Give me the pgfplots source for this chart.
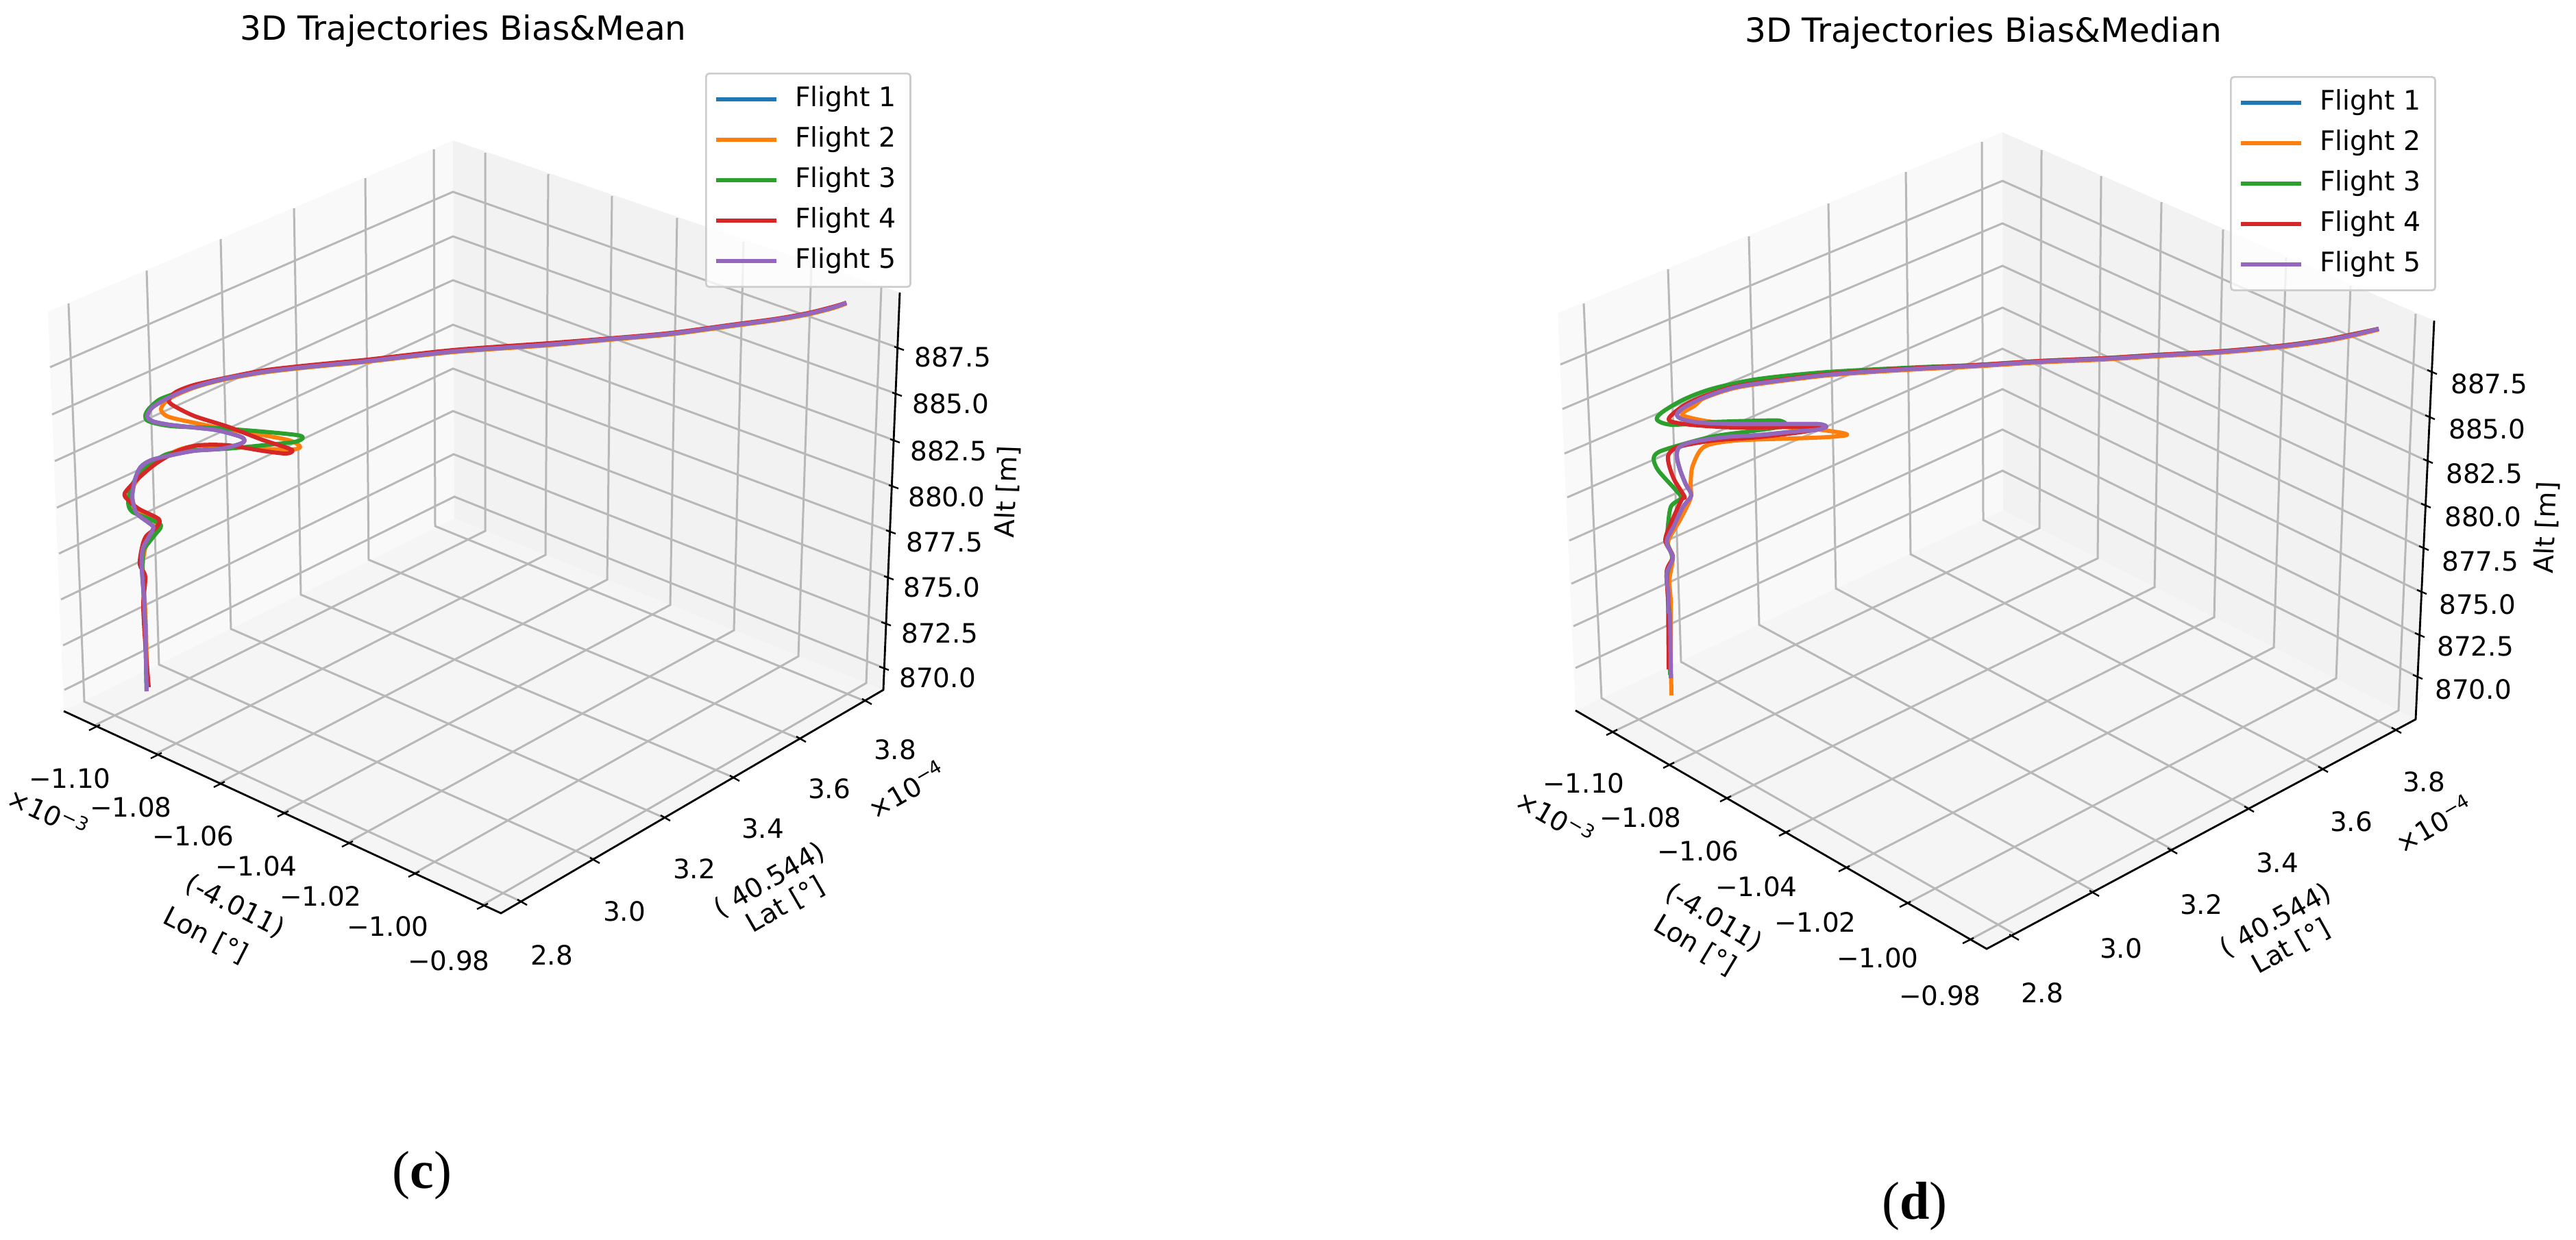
\documentclass[border=0pt]{standalone}
\usepackage{fontspec}
\setmainfont{DejaVu Sans}
\newfontfamily\capfont{Liberation Serif}
\usepackage{pgfplots}
\usepackage{pgfplotstable}
\pgfplotsset{compat=1.18}

\definecolor{c1}{HTML}{1F77B4}
\definecolor{c2}{HTML}{FF7F0E}
\definecolor{c3}{HTML}{2CA02C}
\definecolor{c4}{HTML}{D62728}
\definecolor{c5}{HTML}{9467BD}
\definecolor{paneL}{HTML}{F9F9F9}
\definecolor{paneR}{HTML}{F2F2F2}
\definecolor{paneF}{HTML}{F5F5F5}
\definecolor{gridc}{HTML}{B8B8B8}

% coordinates are image pixels of the projected 3D view (y grows downwards)
\pgfplotstableread{
x y
214 1009
213 962
212 918
210 873
207 829
208 802
217 784
224 770
217 763
200 750
195 737
193 723
197 700
205 682
220 672
247 665
283 658
323 655
350 648
357 643
350 637
317 628
283 624
247 620
223 615
215 608
222 595
247 580
283 565
327 553
383 543
433 537
483 532
536 527
661 513
800 503
889 495
979 487
1068 475
1135 466
1179 458
1215 449
1235 442
}\leftA
\pgfplotstableread{
x y
216 1003
214 960
213 918
211 873
208 829
212 800
220 785
225 773
228 763
207 750
192 737
190 720
203 697
227 677
257 658
290 650
333 652
383 655
427 656
438 652
423 643
383 635
333 627
283 617
245 608
235 597
247 582
283 566
327 554
383 544
433 538
483 533
536 528
661 514
800 504
889 496
979 488
1068 476
1135 467
1179 459
1215 450
1235 443
}\leftB
\pgfplotstableread{
x y
214 1006
213 960
212 918
210 873
208 829
209 805
213 797
225 782
235 767
217 757
193 747
187 733
193 707
213 683
243 663
283 657
330 655
383 650
430 645
442 639
433 635
383 630
317 625
250 622
217 615
212 607
217 597
233 583
260 573
283 565
327 553
383 543
433 537
483 532
536 527
661 513
800 503
889 495
979 487
1068 475
1135 466
1179 458
1215 449
1235 442
}\leftC
\pgfplotstableread{
x y
217 1003
212 940
209 882
212 842
204 824
207 800
213 783
228 770
232 758
203 743
187 730
182 720
200 700
227 677
260 658
290 650
333 650
383 658
417 662
427 658
417 653
383 642
333 623
283 607
250 590
247 582
257 572
283 562
327 552
383 541
433 535
483 530
536 525
661 511
800 501
889 494
979 486
1068 474
1135 465
1179 457
1215 448
1235 442
}\leftD

\pgfplotstableread{
x y
2438 990
2437 901
2434 892
2435 870
2432 838
2441 814
2432 791
2443 767
2456 740
2468 723
2460 707
2452 687
2447 667
2450 653
2470 645
2517 638
2567 635
2617 630
2653 627
2665 623
2653 619
2600 619
2533 619
2483 617
2455 612
2447 605
2457 595
2487 580
2533 565
2600 555
2667 547
2733 542
2800 538
2880 534
2976 528
3067 524
3148 519
3237 514
3326 506
3393 497
3438 488
3471 480
}\rightA
\pgfplotstableread{
x y
2439 1015
2438 950
2438 879
2436 847
2441 814
2434 791
2452 758
2467 727
2467 707
2470 680
2487 652
2533 643
2617 640
2667 638
2695 635
2683 631
2633 625
2550 620
2493 615
2460 608
2455 603
2473 592
2487 581
2533 566
2600 556
2667 548
2733 543
2800 539
2880 535
2976 529
3067 525
3148 520
3237 515
3326 507
3393 498
3438 489
3471 481
}\rightB
\pgfplotstableread{
x y
2437 985
2436 901
2434 870
2433 838
2440 814
2432 790
2433 777
2438 740
2453 727
2445 715
2420 687
2413 670
2420 660
2450 650
2500 637
2550 630
2587 625
2606 620
2597 614
2567 614
2500 616
2440 620
2418 613
2425 602
2457 583
2500 567
2567 553
2667 543
2800 536
2880 533
2976 527
3067 523
3148 518
3237 513
3326 505
3393 496
3438 487
3471 480
}\rightC
\pgfplotstableread{
x y
2435 977
2434 879
2432 834
2441 812
2430 789
2439 762
2454 729
2458 725
2443 700
2435 677
2435 663
2450 652
2500 643
2567 638
2633 630
2662 623
2633 623
2533 624
2467 620
2438 615
2437 608
2457 592
2487 578
2533 564
2600 554
2667 546
2733 541
2800 537
2880 533
2976 527
3067 523
3148 518
3237 513
3326 505
3393 496
3438 487
3471 480
}\rightD

\newcommand{\grd}[1]{\addplot[gridc, line width=1pt, forget plot] coordinates {#1};}
\newcommand{\axl}[1]{\addplot[black, line width=0.95pt, forget plot] coordinates {#1};}
\newcommand{\tck}[1]{\addplot[black, line width=0.8pt, forget plot] coordinates {#1};}
\newcommand{\pane}[2]{\addplot[fill=#1, draw=none, forget plot] coordinates {#2} -- cycle;}
\newcommand{\lab}[4][0]{\node[font=\fontsize{13}{15}\selectfont, rotate=#1, inner sep=0pt] at (axis cs:#2,#3) {#4};}

\pgfplotsset{
  every axis title shift=0pt,
  panel/.style={
    hide axis, scale only axis, clip=false,
    ymin=0, ymax=1809, y dir=reverse,
    height=603pt,
    title style={font=\fontsize{16.2}{18}\selectfont, anchor=center, inner sep=0pt},
    legend cell align=left,
    legend image code/.code={\draw[##1, smooth] (0pt,0pt) -- (29.3pt,0pt);},
    legend style={
      anchor=north west, draw=black!20, line width=0.9pt, rounded corners=1.5pt,
      fill=white, fill opacity=0.8, draw opacity=1, text opacity=1,
      font=\fontsize{13.1}{15}\selectfont, inner xsep=4pt, inner ysep=6pt,
      row sep=6.7pt,
      nodes={inner xsep=0pt, inner ysep=0pt, text height=10pt, text depth=3pt},
      /tikz/every odd column/.append style={column sep=8pt},
    },
    legend entries={Flight 1\hspace*{3pt},Flight 2\hspace*{3pt},Flight 3\hspace*{3pt},Flight 4\hspace*{3pt},Flight 5\hspace*{3pt}},
  },
  fl/.style={line width=2pt, smooth, tension=0.5, line join=round, mark=none},
}

\begin{document}
\begin{tikzpicture}
\path[use as bounding box] (0,0) rectangle (1253pt,603pt);

\begin{axis}[panel, at={(0,0)}, width=626.67pt, xmin=0, xmax=1880,
    title={3D Trajectories Bias\&Mean},
    title style={at={(axis description cs:0.3596,0.9751)}},
    legend style={at={(axis cs:1029,106)}}]
\pane{paneL}{(70,455)(661,205)(663,757)(93,1038)}
\pane{paneR}{(661,205)(1313,427)(1289,1007)(663,757)}
\pane{paneF}{(93,1038)(663,757)(1289,1007)(731,1333)}
% longitude grid
\grd{(138,1059)(708,775)(708,223)}
\grd{(228,1100)(796,810)(800,254)}
\grd{(320,1143)(886,846)(893,286)}
\grd{(413,1186)(978,883)(988,318)}
\grd{(507,1230)(1071,920)(1085,353)}
\grd{(604,1275)(1165,958)(1184,388)}
\grd{(704,1321)(1264,997)(1286,420)}
% latitude grid
\grd{(761,1316)(123,1024)(100,443)}
\grd{(867,1254)(232,970)(214,395)}
\grd{(970,1194)(337,918)(322,349)}
\grd{(1071,1135)(439,868)(429,304)}
\grd{(1168,1079)(538,817)(533,260)}
\grd{(1264,1024)(635,768)(633,218)}
% altitude grid
\grd{(73,536)(661,280)(1312,508)}
\grd{(76,605)(661,345)(1309,575)}
\grd{(80,673)(661,409)(1306,643)}
\grd{(83,741)(661,474)(1304,710)}
\grd{(86,808)(661,538)(1300,776)}
\grd{(89,875)(661,600)(1297,843)}
\grd{(92,942)(662,663)(1293,910)}
\grd{(94,1007)(663,725)(1290,975)}
% axis lines and ticks
\axl{(93,1038)(731,1333)(1289,1007)(1313,427)}
\tck{(130,1066)(146,1058)}\tck{(220,1107)(236,1099)}\tck{(312,1149)(328,1141)}
\tck{(405,1192)(421,1184)}\tck{(499,1236)(515,1228)}\tck{(596,1280)(612,1272)}
\tck{(696,1327)(712,1319)}
\tck{(755,1313)(769,1321)}\tck{(861,1252)(875,1260)}\tck{(964,1190)(978,1198)}
\tck{(1065,1132)(1079,1140)}\tck{(1162,1075)(1176,1083)}\tck{(1258,1020)(1272,1028)}
\tck{(1283,973)(1297,978)}\tck{(1286,908)(1300,913)}\tck{(1290,841)(1304,846)}
\tck{(1293,774)(1307,779)}\tck{(1297,708)(1311,713)}\tck{(1299,641)(1313,646)}
\tck{(1302,573)(1316,578)}\tck{(1305,506)(1319,511)}
% trajectories
\addplot[fl, c1] table {\leftA};
\addplot[fl, c2] table {\leftB};
\addplot[fl, c3] table {\leftC};
\addplot[fl, c4] table {\leftD};
\addplot[fl, c5] table {\leftA};
% tick labels
\lab{102}{1136}{−1.10}\lab{191}{1178}{−1.08}\lab{282}{1220}{−1.06}\lab{374}{1264}{−1.04}
\lab{468}{1308}{−1.02}\lab{566}{1352}{−1.00}\lab{655}{1402}{−0.98}
\lab{805}{1394}{2.8}\lab{911}{1330}{3.0}\lab{1013}{1268}{3.2}\lab{1113}{1209}{3.4}
\lab{1210}{1151}{3.6}\lab{1306}{1094}{3.8}
\lab{1368}{989}{870.0}\lab{1371}{924}{872.5}\lab{1374}{857}{875.0}\lab{1378}{791}{877.5}
\lab{1381}{725}{880.0}\lab{1384}{658}{882.5}\lab{1387}{589}{885.0}\lab{1390}{521}{887.5}
\lab[-25]{71}{1186}{×10\textsuperscript{−3}}
\lab[30]{1323}{1152}{×10\textsuperscript{−4}}
\lab[-27]{343}{1323}{(-4.011)}
\lab[-27]{300}{1366}{Lon [°]}
\lab[30]{1123}{1285}{( 40.544)}
\lab[30]{1146}{1321}{Lat [°]}
\lab[88]{1470}{718}{Alt [m]}
\node[font=\capfont\fontsize{26}{30}\selectfont, inner sep=0pt] at (axis cs:616,1716) {(\textbf{c})};
\end{axis}

\begin{axis}[panel, at={(626.67pt,0)}, width=626.33pt, xmin=1880, xmax=3759,
    title={3D Trajectories Bias\&Median},
    title style={at={(axis description cs:0.5397,0.9735)}},
    legend style={at={(axis cs:3254,111)}}]
\pane{paneL}{(2273,457)(2922,193)(2923,745)(2299,1037)}
\pane{paneR}{(2922,193)(3552,468)(3525,1050)(2923,745)}
\pane{paneF}{(2299,1037)(2923,745)(3525,1050)(2899,1385)}
% longitude grid
\grd{(2352,1069)(2976,771)(2979,219)}
\grd{(2435,1117)(3061,815)(3066,257)}
\grd{(2518,1166)(3144,857)(3154,295)}
\grd{(2604,1216)(3231,901)(3244,335)}
\grd{(2691,1268)(3318,945)(3336,376)}
\grd{(2780,1320)(3409,990)(3430,417)}
\grd{(2872,1373)(3500,1037)(3525,458)}
% latitude grid
\grd{(2939,1363)(2337,1019)(2311,443)}
\grd{(3056,1301)(2453,966)(2434,393)}
\grd{(3170,1240)(2567,912)(2552,345)}
\grd{(3282,1180)(2679,859)(2668,297)}
\grd{(3390,1122)(2788,809)(2781,251)}
\grd{(3497,1066)(2894,759)(2892,207)}
% altitude grid
\grd{(2277,532)(2922,264)(3548,543)}
\grd{(2280,597)(2922,326)(3545,609)}
\grd{(2283,662)(2922,388)(3542,673)}
\grd{(2287,726)(2922,449)(3539,738)}
\grd{(2290,789)(2922,509)(3536,800)}
\grd{(2293,852)(2922,568)(3533,864)}
\grd{(2296,914)(2922,627)(3530,927)}
\grd{(2299,975)(2922,687)(3528,988)}
% axis lines and ticks
\axl{(2299,1037)(2899,1385)(3525,1050)(3552,468)}
\tck{(2344,1073)(2360,1065)}\tck{(2427,1121)(2443,1113)}\tck{(2510,1170)(2526,1162)}
\tck{(2596,1220)(2612,1212)}\tck{(2683,1272)(2699,1264)}\tck{(2772,1324)(2788,1316)}
\tck{(2864,1377)(2880,1369)}
\tck{(2932,1364)(2946,1372)}\tck{(3049,1300)(3063,1308)}\tck{(3163,1238)(3177,1246)}
\tck{(3275,1177)(3289,1185)}\tck{(3383,1119)(3397,1127)}\tck{(3490,1062)(3504,1070)}
\tck{(3521,985)(3535,991)}\tck{(3524,924)(3538,930)}\tck{(3527,861)(3541,867)}
\tck{(3530,797)(3544,803)}\tck{(3533,735)(3547,741)}\tck{(3536,670)(3550,676)}
\tck{(3539,606)(3553,612)}\tck{(3542,540)(3556,546)}
% trajectories
\addplot[fl, c1] table {\rightA};
\addplot[fl, c2] table {\rightB};
\addplot[fl, c3] table {\rightC};
\addplot[fl, c4] table {\rightD};
\addplot[fl, c5] table {\rightA};
% tick labels
\lab{2311}{1143}{−1.10}\lab{2394}{1193}{−1.08}\lab{2478}{1242}{−1.06}\lab{2563}{1294}{−1.04}
\lab{2649}{1346}{−1.02}\lab{2740}{1398}{−1.00}\lab{2831}{1453}{−0.98}
\lab{2980}{1449}{2.8}\lab{3095}{1384}{3.0}\lab{3212}{1320}{3.2}\lab{3323}{1259}{3.4}
\lab{3431}{1199}{3.6}\lab{3537}{1141}{3.8}
\lab{3609}{1006}{870.0}\lab{3612}{943}{872.5}\lab{3615}{882}{875.0}\lab{3619}{819}{877.5}
\lab{3623}{754}{880.0}\lab{3625}{691}{882.5}\lab{3629}{626}{885.0}\lab{3632}{560}{887.5}
\lab[-30]{2270}{1193}{×10\textsuperscript{−3}}
\lab[30]{3552}{1202}{×10\textsuperscript{−4}}
\lab[-31]{2501}{1340}{(-4.011)}
\lab[-31]{2473}{1380}{Lon [°]}
\lab[29]{3321}{1344}{( 40.544)}
\lab[29]{3343}{1382}{Lat [°]}
\lab[88]{3716}{770}{Alt [m]}
\node[font=\capfont\fontsize{26}{30}\selectfont, inner sep=0pt] at (axis cs:2794,1761) {(\textbf{d})};
\end{axis}
\end{tikzpicture}
\end{document}
